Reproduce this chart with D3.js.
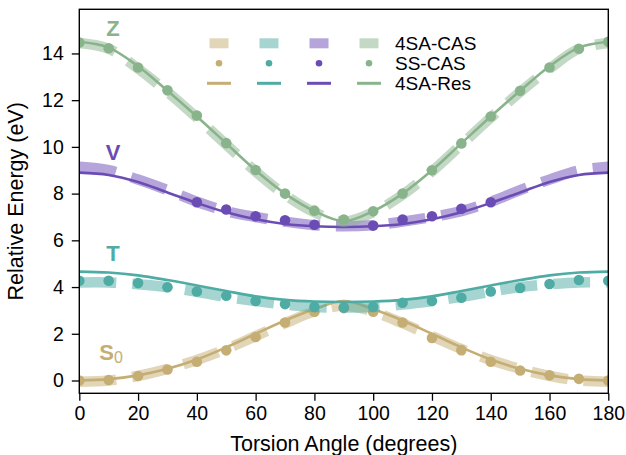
<!DOCTYPE html>
<html>
<head>
<meta charset="utf-8">
<script src="https://cdn.jsdelivr.net/npm/d3@7"></script>
<style>
  html, body { margin: 0; padding: 0; background: #fff; }
  svg { display: block; font-family: "Liberation Sans", Arial, sans-serif; }
</style>
</head>
<body>
<svg id="chart" width="626" height="455"></svg>
<script>
// ---------------- data ----------------
const angles = [0,10,20,30,40,50,60,70,80,90,100,110,120,130,140,150,160,170,180];
const xTicks = [0,20,40,60,80,100,120,140,160,180];
const yTicks = [0,2,4,6,8,10,12,14];
const stateNames = ["S0","T","V","Z"];
const methodNames = ["4SA-CAS","SS-CAS","4SA-Res"];

// 4SA-CAS (thick dashed band)
const s0Cas4 = [-0.05,0.0,0.2,0.5,0.88,1.35,1.9,2.45,2.95,3.2,2.95,2.45,1.9,1.35,0.88,0.5,0.2,0.0,-0.05];
const tCas4  = [4.2,4.2,4.12,4.0,3.8,3.58,3.4,3.25,3.15,3.12,3.15,3.25,3.4,3.58,3.8,4.0,4.12,4.2,4.2];
const vCas4  = [9.15,9.0,8.6,8.15,7.65,7.25,7.0,6.8,6.65,6.6,6.65,6.8,7.0,7.25,7.65,8.15,8.6,9.0,9.15];
const zCas4  = [14.45,14.2,13.35,12.35,11.25,10.1,8.95,7.95,7.2,6.8,7.2,7.95,8.95,10.1,11.25,12.35,13.35,14.2,14.45];

// SS-CAS (dots)
const s0Ss = [0.0,0.02,0.19,0.47,0.8,1.29,1.86,2.48,2.94,3.1,2.94,2.48,1.82,1.3,0.8,0.43,0.22,0.07,0.0];
const tSs  = [4.27,4.27,4.17,3.99,3.81,3.63,3.4,3.27,3.15,3.13,3.15,3.33,3.4,3.54,3.81,3.96,4.13,4.3,4.27];
const vSs  = [null,null,null,null,7.63,7.32,7.03,6.86,6.67,null,6.63,6.89,7.03,7.35,7.63,null,null,null,null];
const zSs  = [14.47,14.22,13.4,12.42,11.34,10.16,9.01,8.0,7.27,6.89,7.24,8.0,9.0,10.15,11.3,12.4,13.4,14.2,14.5];

// 4SA-Res (thin solid line)
const s0Res = [0.0,0.06,0.22,0.5,0.9,1.42,2.0,2.57,3.05,3.4,3.05,2.57,2.0,1.42,0.9,0.5,0.22,0.06,0.0];
const tRes  = [4.66,4.62,4.5,4.3,4.07,3.83,3.6,3.45,3.38,3.36,3.38,3.45,3.6,3.83,4.07,4.3,4.5,4.62,4.66];
const vRes  = [8.9,8.8,8.5,8.05,7.6,7.2,6.9,6.7,6.6,6.57,6.6,6.7,6.9,7.2,7.6,8.05,8.5,8.8,8.9];
const zRes  = [14.5,14.25,13.45,12.4,11.3,10.15,9.0,8.0,7.25,6.82,7.25,8.0,9.0,10.15,11.3,12.4,13.45,14.25,14.5];

const colors = ["#c5ae74","#4eaca4","#6b4cb5","#89b48b"];

const states = [
  {name:"S0", cas4:s0Cas4, ss:s0Ss, res:s0Res, color:colors[0]},
  {name:"T",  cas4:tCas4,  ss:tSs,  res:tRes,  color:colors[1]},
  {name:"V",  cas4:vCas4,  ss:vSs,  res:vRes,  color:colors[2]},
  {name:"Z",  cas4:zCas4,  ss:zSs,  res:zRes,  color:colors[3]}
];

// ---------------- layout ----------------
const svg = d3.select("#chart");
const L = 79.3, R = 608.3, T = 9.3, B = 393.3;
const x = d3.scaleLinear().domain([0,180]).range([L,R]);
const y = d3.scaleLinear().domain([-0.548,15.89]).range([B,T]);

svg.append("defs").append("clipPath").attr("id","clip")
  .append("rect").attr("x",L).attr("y",T).attr("width",R-L).attr("height",B-T);

const plot = svg.append("g").attr("clip-path","url(#clip)");

const line = d3.line()
  .defined(d => d[1] !== null)
  .x(d => x(d[0])).y(d => y(d[1]))
  .curve(d3.curveCatmullRom.alpha(0.5));

states.forEach(s => {
  const g = plot.append("g");
  g.append("path")
    .datum(angles.map((a,i) => [a, s.cas4[i]]))
    .attr("d", line)
    .attr("fill","none")
    .attr("stroke", s.color)
    .attr("stroke-opacity", 0.5)
    .attr("stroke-width", 10.5)
    .attr("stroke-dasharray","37,16");
  g.append("path")
    .datum(angles.map((a,i) => [a, s.res[i]]))
    .attr("d", line)
    .attr("fill","none")
    .attr("stroke", s.color)
    .attr("stroke-width", 2.6);
  g.selectAll("circle")
    .data(angles.map((a,i) => [a, s.ss[i]]).filter(d => d[1] !== null))
    .enter().append("circle")
    .attr("cx", d => x(d[0])).attr("cy", d => y(d[1]))
    .attr("r", 5.3)
    .attr("fill", s.color);
});

// ---------------- axes ----------------
const xAxis = d3.axisBottom(x).tickValues(xTicks).tickSize(7.5).tickPadding(5);
const yAxis = d3.axisLeft(y).tickValues(yTicks).tickSize(7.5).tickPadding(8);

const gx = svg.append("g").attr("transform",`translate(0,${B})`).call(xAxis);
const gy = svg.append("g").attr("transform",`translate(${L},0)`).call(yAxis);
[gx, gy].forEach(g => {
  g.select(".domain").remove();
  g.selectAll(".tick line").attr("stroke","#000").attr("stroke-width",1.3);
  g.selectAll(".tick text").attr("fill","#000").style("font-size","19.5px")
    .style("font-family",'"Liberation Sans", Arial, sans-serif');
});

svg.append("rect").attr("x",L).attr("y",T).attr("width",R-L).attr("height",B-T)
  .attr("fill","none").attr("stroke","#000").attr("stroke-width",1.4);

svg.append("text").attr("x",(L+R)/2).attr("y",451)
  .attr("text-anchor","middle").style("font-size","21.5px").attr("fill","#000")
  .text("Torsion Angle (degrees)");
svg.append("text").attr("transform",`translate(23,${(T+B)/2}) rotate(-90)`)
  .attr("text-anchor","middle").style("font-size","21.5px").attr("fill","#000")
  .text("Relative Energy (eV)");

// ---------------- state labels ----------------
const labelPos = [[111,360],[113,261],[113,160],[113,36]];
states.forEach((s,i) => {
  const t = svg.append("text").attr("x",labelPos[i][0]).attr("y",labelPos[i][1])
    .attr("text-anchor","middle").attr("fill",s.color)
    .style("font-size","22px").style("font-weight","bold");
  if (s.name === "S0") {
    t.append("tspan").text("S");
    t.append("tspan").attr("dy",3).style("font-weight","normal").style("font-size","16px").text("0");
  } else {
    t.text(s.name);
  }
});

// ---------------- legend ----------------
const legX = [219,269,319,369];
const legY = [43.3,63.3,83.3];
const leg = svg.append("g");
colors.forEach((c,i) => {
  leg.append("rect").attr("x",legX[i]-9.5).attr("y",legY[0]-5).attr("width",19).attr("height",10)
    .attr("fill",c).attr("fill-opacity",0.5);
  leg.append("circle").attr("cx",legX[i]).attr("cy",legY[1]).attr("r",3.3).attr("fill",c);
  leg.append("line").attr("x1",legX[i]-12).attr("x2",legX[i]+12)
    .attr("y1",legY[2]).attr("y2",legY[2]).attr("stroke",c).attr("stroke-width",3);
});
methodNames.forEach((m,j) => {
  leg.append("text").attr("x",395).attr("y",legY[j]+7).style("font-size","19px")
    .attr("fill","#000").text(m);
});
</script>
</body>
</html>
